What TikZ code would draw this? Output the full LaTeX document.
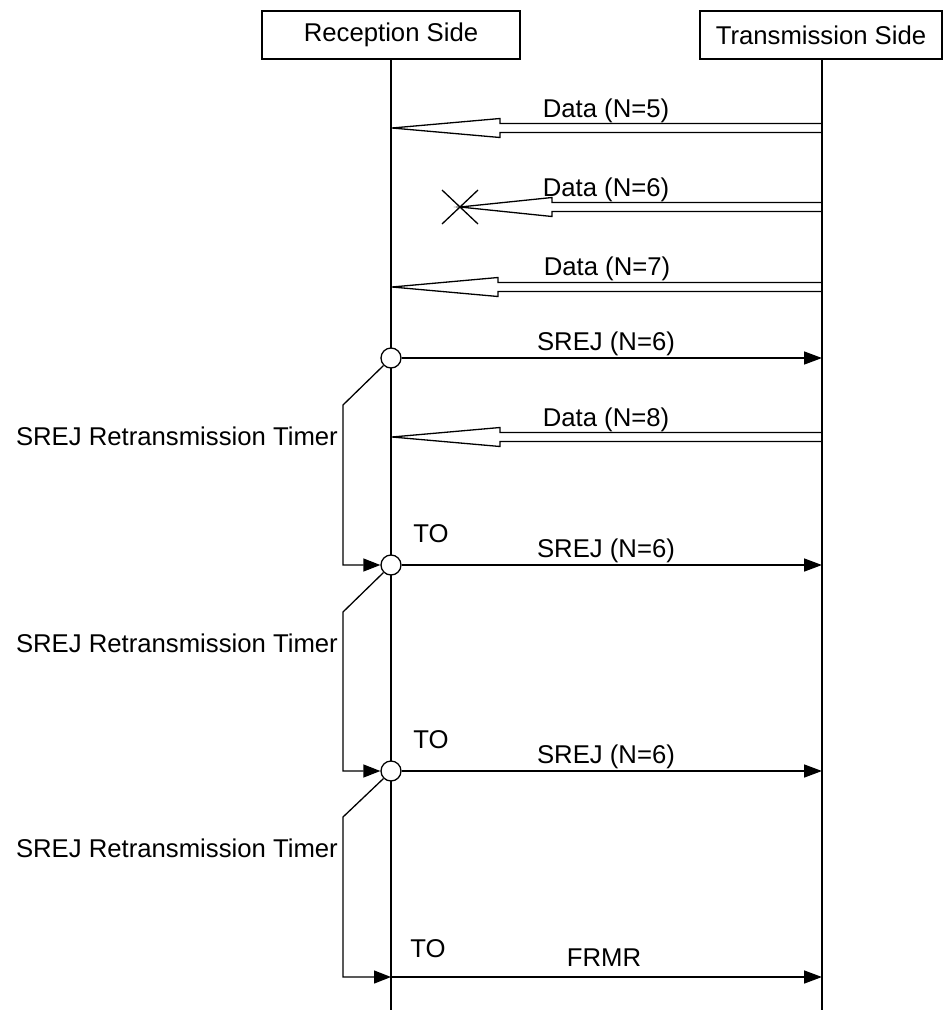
\documentclass[tikz,border=0pt]{standalone}
\usepackage{fontspec}
\setmainfont{Liberation Sans}
\usetikzlibrary{arrows.meta,calc}
\newcommand\hollowarr[3]{%
  \draw[hollow] (#2) -- ($(#2)+(#3,-9.5)$) -- ($(#2)+(#3,-4.5)$) -- ($(#1)+(0,-4.5)$)
    -- ($(#1)+(0,4.5)$) -- ($(#2)+(#3,4.5)$) -- ($(#2)+(#3,9.5)$) -- cycle;}
\begin{document}
\begin{tikzpicture}[x=1pt,y=-1pt,
  txt/.style={font=\fontsize{25.7}{30}\selectfont},
  lw/.style={line width=1.3pt},
  hdr/.style={draw,line width=1.3pt,minimum height=48pt,inner sep=0pt,txt},
  lbl/.style={inner sep=0pt,anchor=base,txt},
  lblr/.style={inner sep=0pt,anchor=base east,txt},
  msg/.style={line width=1.5pt,-{Triangle[length=18pt,width=13pt]}},
  tmr/.style={line width=1.3pt,line join=miter,-{Triangle[length=17pt,width=13pt]}},
  knot/.style={circle,draw,fill=white,line width=1.3pt,minimum size=20pt,inner sep=0pt},
  hollow/.style={draw,line width=1.3pt,line join=miter}
]
\useasboundingbox (0,0) rectangle (944,1010);

% headers and lifelines
\node[hdr,minimum width=258pt] (rx) at (391,35) {Reception Side};
\node[hdr,minimum width=242pt] (tx) at (821,35) {Transmission Side};
\coordinate (rxtop) at (391,59);
\coordinate (txtop) at (822,59);
\coordinate (rxbot) at (391,1010);
\coordinate (txbot) at (822,1010);
\draw[lw] (rxtop) -- (rxbot);
\draw[lw] (txtop) -- (txbot);

% Data (N=5)
\coordinate (d5s) at (822,128);
\coordinate (d5e) at (392,128);
\hollowarr{d5s}{d5e}{108}
\node[lbl] (l5) at (606,117) {Data (N=5)};

% Data (N=6) lost
\coordinate (d6s) at (822,207);
\coordinate (d6e) at (460,207);
\hollowarr{d6s}{d6e}{92}
\draw[lw] ($(d6e)+(-18,-17)$) -- ($(d6e)+(18,17)$);
\draw[lw] ($(d6e)+(-18,17)$) -- ($(d6e)+(18,-17)$);
\node[lbl] (l6) at (606,196) {Data (N=6)};

% Data (N=7)
\coordinate (d7s) at (822,287);
\coordinate (d7e) at (392,287);
\hollowarr{d7s}{d7e}{106}
\node[lbl] (l7) at (607,275) {Data (N=7)};

% SREJ 1
\node[knot] (k1) at (391,358) {};
\coordinate (t1) at (822,358);
\draw[msg] (k1) -- (t1);
\node[lbl] (s1) at (606,350) {SREJ (N=6)};

% Data (N=8)
\coordinate (d8s) at (822,437);
\coordinate (d8e) at (392,437);
\hollowarr{d8s}{d8e}{108}
\node[lbl] (l8) at (606,426) {Data (N=8)};

% SREJ 2
\node[knot] (k2) at (391,565) {};
\coordinate (t2) at (822,565);
\draw[msg] (k2) -- (t2);
\node[lbl] (s2) at (606,557) {SREJ (N=6)};
\node[lbl] (to2) at (431,542) {TO};

% SREJ 3
\node[knot] (k3) at (391,771) {};
\coordinate (t3) at (822,771);
\draw[msg] (k3) -- (t3);
\node[lbl] (s3) at (606,763) {SREJ (N=6)};
\node[lbl] (to3) at (431,748) {TO};

% FRMR
\coordinate (r4) at (391,977);
\coordinate (t4) at (822,977);
\draw[msg] (r4) -- (t4);
\node[lbl] (fr) at (604,966) {FRMR};
\node[lbl] (to4) at (428,957) {TO};

% timers
\coordinate (b1a) at (343,405);
\coordinate (b1b) at (343,565);
\draw[tmr] (k1.225) -- (b1a) -- (b1b) -- (k2.west);
\node[lblr] (tm1) at (338,445) {SREJ Retransmission Timer};

\coordinate (b2a) at (343,612);
\coordinate (b2b) at (343,771);
\draw[tmr] (k2.225) -- (b2a) -- (b2b) -- (k3.west);
\node[lblr] (tm2) at (338,652) {SREJ Retransmission Timer};

\coordinate (b3a) at (343,817);
\coordinate (b3b) at (343,977);
\draw[tmr] (k3.225) -- (b3a) -- (b3b) -- (r4);
\node[lblr] (tm3) at (338,857) {SREJ Retransmission Timer};
\end{tikzpicture}
\end{document}
